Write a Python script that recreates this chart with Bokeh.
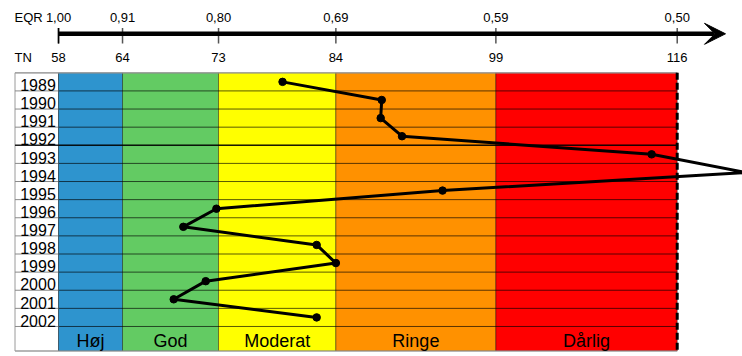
from bokeh.plotting import figure
from bokeh.models import Range1d, Arrow, VeeHead
from bokeh.embed import file_html
from bokeh.resources import INLINE
from bokeh.core.properties import value

# ---------------- data ----------------
years = ["1989", "1990", "1991", "1992", "1993", "1994", "1995",
         "1996", "1997", "1998", "1999", "2000", "2001", "2002"]
tn_values = [79.0, 88.3, 88.2, 90.2, 113.6, 122.4, 94.0,
             72.8, 69.7, 82.2, 84.0, 71.8, 68.8, 82.2]
class_names = ["Høj", "God", "Moderat", "Ringe", "Dårlig"]
class_edges = [58, 64, 73, 84, 99, 116]
eqr_labels = ["1,00", "0,91", "0,80", "0,69", "0,59", "0,50"]
tn_labels = ["58", "64", "73", "84", "99", "116"]
class_colors = ["#2E94CE", "#63CB63", "#FFFF00", "#FF9100", "#FF0000"]

# ---------------- layout ----------------
W, H = 742, 356
PX_PER_TN = 10.667
TN_AT_PX0 = 52.56
ROW_PX = 18.12
TABLE_TOP_PX = 72.3
FONT = value("Liberation Sans")


def xpx(px):
    return TN_AT_PX0 + px / PX_PER_TN


def ypx(py):
    return (py - TABLE_TOP_PX) / ROW_PX


p = figure(width=W, height=H, output_backend="svg", toolbar_location=None,
           x_range=Range1d(xpx(0), xpx(W)),
           y_range=Range1d(ypx(H), ypx(0)),
           x_axis_location=None, y_axis_location=None,
           min_border=0, min_border_left=0, min_border_right=0,
           min_border_top=0, min_border_bottom=0,
           background_fill_color="white", border_fill_color="white")
p.outline_line_color = None
p.grid.visible = False

n = len(years)
bottom = ypx(350.5)
left_col = xpx(14.5)
x_end = class_edges[-1]

# label column
p.quad(left=[left_col], right=[class_edges[0]], top=[0], bottom=[bottom],
       fill_color="white", line_color="#9a9a9a", line_width=1)

# class bands
p.quad(left=class_edges[:-1], right=class_edges[1:],
       top=[0] * len(class_names), bottom=[bottom] * len(class_names),
       fill_color=class_colors, line_color="#000000", line_alpha=0.4,
       line_width=1)

# row lines
rows = list(range(1, n + 1))
p.segment(x0=[left_col] * n, x1=[class_edges[0]] * n, y0=rows, y1=rows,
          line_color="#8a8a8a", line_width=1)
p.segment(x0=[class_edges[0]] * n, x1=[x_end] * n, y0=rows, y1=rows,
          line_color="#000000", line_alpha=0.65, line_width=1)
p.segment(x0=[left_col], x1=[x_end], y0=[4], y1=[4],
          line_color="#000000", line_alpha=0.8, line_width=1.6)
# outer borders
p.segment(x0=[left_col, left_col], x1=[x_end, x_end], y0=[0, bottom],
          y1=[0, bottom], line_color="#a0a0a0", line_width=1.2)

# dashed reference line
p.segment(x0=[x_end], x1=[x_end], y0=[0], y1=[bottom],
          line_color="black", line_width=3, line_dash="7 3")

# year labels
p.text(x=[xpx(37.5)] * n, y=[i + 0.68 for i in range(n)], text=years,
       text_align="center", text_baseline="middle",
       text_font=FONT, text_font_size="16px", text_color="black")

# class labels
centers = [(a + b) / 2 for a, b in zip(class_edges[:-1], class_edges[1:])]
p.text(x=centers, y=[ypx(340)] * len(centers), text=class_names,
       text_align="center", text_baseline="middle",
       text_font=FONT, text_font_size="18px", text_color="black")

# data line
ycent = [i + 0.5 for i in range(n)]
p.line(tn_values, ycent, line_color="black", line_width=3)
p.scatter(tn_values, ycent, size=7.5, fill_color="black", line_color="black")

# header axis
ay = ypx(33.3)
p.add_layout(Arrow(x_start=class_edges[0], y_start=ay, x_end=xpx(725),
                   y_end=ay, line_color="black", line_width=4.5,
                   end=VeeHead(size=21, fill_color="black",
                               line_color="black", line_width=1)))
p.segment(x0=class_edges, x1=class_edges,
          y0=[ypx(27.5)] * len(class_edges), y1=[ypx(43)] * len(class_edges),
          line_color="#555555", line_width=1.5)
p.segment(x0=[class_edges[0]], x1=[class_edges[0]], y0=[ypx(27.5)],
          y1=[ypx(43)], line_color="black", line_width=1.5)

p.text(x=class_edges, y=[ypx(17)] * len(class_edges), text=eqr_labels,
       text_align="center", text_baseline="middle",
       text_font=FONT, text_font_size="13px", text_color="black")
p.text(x=class_edges, y=[ypx(57.3)] * len(class_edges), text=tn_labels,
       text_align="center", text_baseline="middle",
       text_font=FONT, text_font_size="13px", text_color="black")
p.text(x=[xpx(14)], y=[ypx(17)], text=["EQR"], text_align="left",
       text_baseline="middle", text_font=FONT,
       text_font_size="13px", text_color="black")
p.text(x=[xpx(14)], y=[ypx(57.3)], text=["TN"], text_align="left",
       text_baseline="middle", text_font=FONT,
       text_font_size="13px", text_color="black")

open("out.html", "w").write(file_html(p, INLINE))
